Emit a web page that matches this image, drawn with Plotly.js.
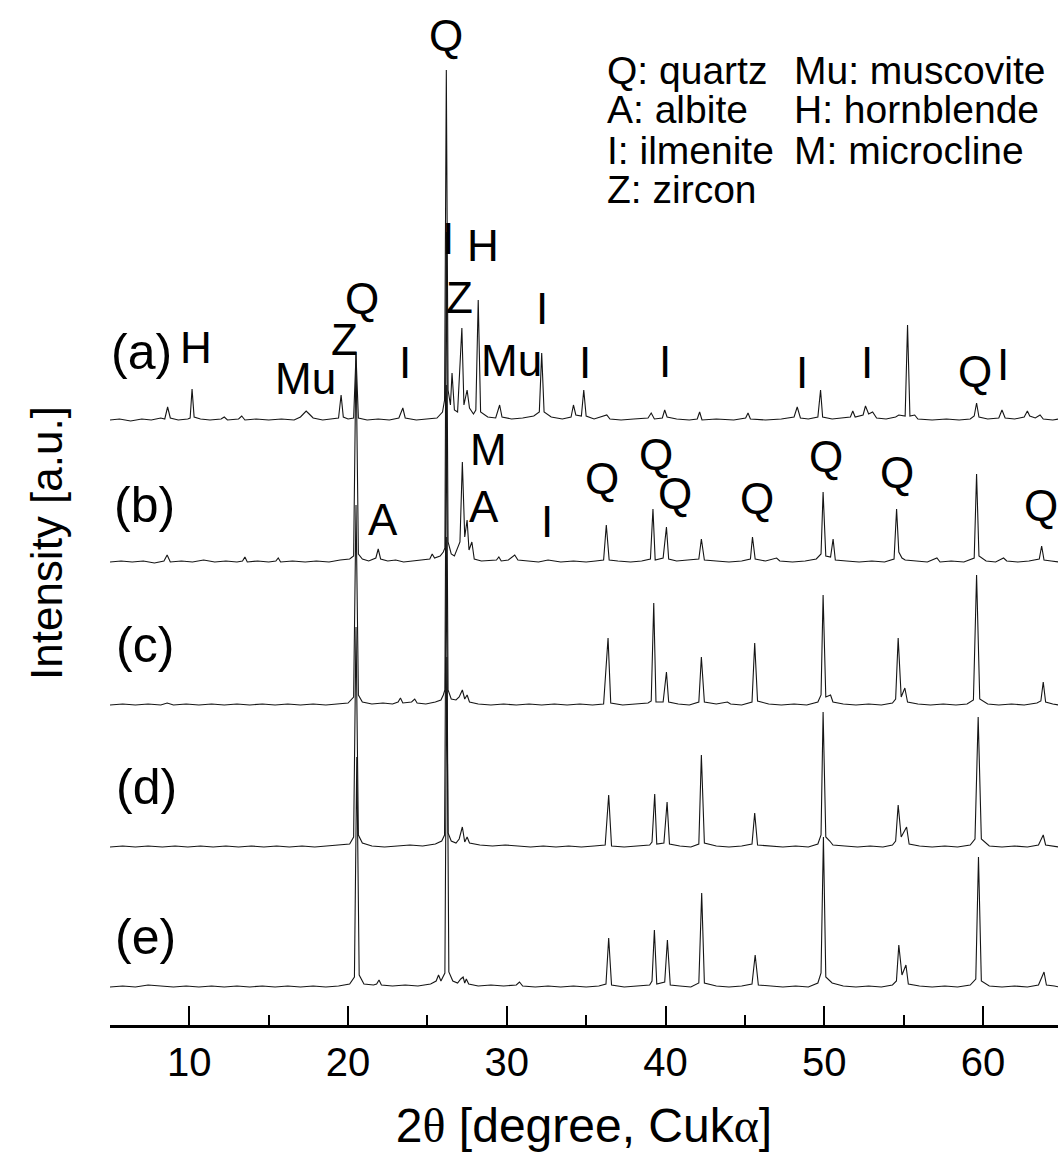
<!DOCTYPE html>
<html><head><meta charset="utf-8">
<script src="https://cdn.plot.ly/plotly-3.0.1.min.js"></script>
<style>html,body{margin:0;padding:0;background:#fff;}#chart{width:1058px;height:1169px;}</style>
</head><body><div id="chart"></div>
<script>
// ---- data (2θ in degrees, intensity in arbitrary units above each pattern's own baseline)
const sampleNames = ['(a)', '(b)', '(c)', '(d)', '(e)'];

const twoTheta_a = [5.0,5.6,6.3,7.0,7.6,8.2,8.45,8.63,8.8,9.3,9.9,10.05,10.17,10.3,10.7,11.3,12.0,12.2,12.4,13.1,13.3,13.5,14.2,15.0,15.8,16.6,17.0,17.2,17.36,17.55,17.8,18.4,19.0,19.4,19.56,19.7,20.0,20.35,20.5,20.65,21.2,21.9,22.6,23.2,23.45,23.6,24.3,25.0,25.6,25.95,26.08,26.19,26.3,26.45,26.55,26.7,26.9,27.17,27.3,27.5,27.65,27.9,28.05,28.2,28.35,28.8,29.3,29.55,29.7,30.3,31.0,31.7,32.05,32.2,32.35,32.8,33.5,34.05,34.2,34.35,34.7,34.85,35.0,35.5,36.3,36.5,37.2,38.0,38.9,39.1,39.3,39.8,39.95,40.1,40.7,41.5,42.0,42.15,42.3,43.2,44.3,45.05,45.2,45.35,46.3,47.3,48.1,48.3,48.5,49.0,49.6,49.77,49.9,50.5,51.2,51.65,51.8,51.95,52.45,52.6,52.8,53.05,53.3,53.9,54.5,54.7,55.1,55.25,55.4,55.7,55.9,56.8,57.7,58.5,59.2,59.45,59.6,59.75,60.3,61.0,61.2,61.4,62.0,62.6,62.8,62.95,63.3,63.6,63.8,64.4,64.8];
const intensity_a = [0,1,-1,1,0,2,1,13,2,0,1,2,31,3,1,0,1,3,0,1,4,0,1,0,1,0,3,7,9,6,2,0,1,2,25,3,1,2,65,2,0,1,0,2,12,2,0,1,2,8,20,350,30,15,47,10,8,92,15,30,12,6,10,120,8,3,2,15,3,1,2,4,8,67,8,3,1,3,15,5,4,30,4,1,5,1,0,1,2,7,1,2,10,3,1,0,1,8,0,1,0,2,7,1,0,1,3,13,2,1,3,30,3,1,2,3,9,3,5,14,6,8,2,1,3,5,4,95,4,5,1,0,1,0,1,4,17,3,1,2,10,2,1,3,9,4,2,5,1,0,1];

const twoTheta_b = [5.0,5.7,6.4,7.1,7.8,8.4,8.6,8.8,9.5,10.2,10.9,11.6,12.3,13.0,13.35,13.5,13.65,14.3,15.0,15.45,15.6,15.75,16.5,17.3,18.0,18.8,19.5,20.1,20.35,20.5,20.65,20.9,21.3,21.75,21.9,22.05,22.5,23.0,23.5,24.1,24.8,25.15,25.3,25.45,25.8,26.0,26.1,26.19,26.3,26.5,26.7,26.9,27.05,27.2,27.35,27.5,27.62,27.8,27.95,28.4,29.0,29.35,29.5,29.65,30.1,30.5,30.7,31.3,32.0,32.6,33.4,34.2,35.0,35.6,36.1,36.27,36.45,37.0,37.8,38.5,39.05,39.21,39.35,39.85,40.06,40.2,40.7,41.4,42.1,42.26,42.45,43.2,44.0,44.8,45.35,45.48,45.65,46.3,47.0,47.2,48.0,48.8,49.5,49.8,49.93,50.1,50.4,50.56,50.7,51.4,52.2,53.0,53.8,54.4,54.56,54.7,54.9,55.1,55.8,56.5,57.1,57.3,58.0,58.8,59.45,59.6,59.75,60.2,60.8,61.3,61.5,62.2,62.9,63.55,63.7,63.85,64.3,64.8];
const intensity_b = [0,1,0,1,-1,1,7,0,1,0,2,0,1,0,1,5,0,1,0,1,4,0,1,0,1,0,2,3,6,210,8,3,1,4,13,3,1,2,0,1,2,3,8,4,6,10,14,330,20,8,6,15,20,100,25,42,12,20,3,1,2,2,5,1,2,7,2,1,0,2,0,1,0,1,2,37,2,1,0,1,3,53,2,4,35,3,1,2,3,23,2,1,0,1,3,25,3,1,4,1,0,1,3,8,70,6,5,23,2,1,0,1,0,3,53,10,4,2,1,0,4,0,1,0,4,88,6,1,0,4,1,0,1,3,16,2,1,0];

const twoTheta_c = [5.0,5.8,6.6,7.4,8.2,8.6,9.0,9.8,10.6,11.4,12.2,13.0,13.8,14.6,15.4,16.2,17.0,17.8,18.6,19.4,20.0,20.35,20.5,20.65,20.9,21.5,22.2,22.8,23.15,23.3,23.45,24.0,24.2,24.35,24.9,25.5,25.85,26.0,26.1,26.19,26.3,26.5,26.8,27.0,27.2,27.35,27.5,27.65,28.2,29.0,29.8,30.6,31.4,32.2,33.0,33.8,34.6,35.4,36.1,36.38,36.55,37.3,38.1,38.9,39.1,39.26,39.4,39.85,40.06,40.2,40.8,41.5,42.1,42.26,42.45,43.2,43.9,44.1,44.8,45.45,45.62,45.8,46.5,47.3,48.1,48.9,49.6,49.8,49.93,50.1,50.4,50.55,51.2,52.0,52.8,53.6,54.3,54.5,54.66,54.85,55.08,55.25,55.9,56.7,57.5,58.3,59.0,59.4,59.6,59.8,60.3,61.0,61.8,62.6,63.4,63.65,63.8,63.95,64.4,64.8];
const intensity_c = [0,1,0,1,0,2,0,1,0,1,0,1,0,1,0,1,0,1,0,1,2,8,200,10,3,1,2,1,3,7,2,3,6,2,1,3,5,10,15,320,15,6,5,8,15,6,10,3,1,0,1,0,1,0,1,0,1,0,1,67,2,0,1,2,4,102,3,3,33,3,1,0,3,48,3,1,3,1,0,3,62,4,1,0,1,0,3,10,110,8,10,3,1,0,1,0,2,6,67,8,17,3,1,0,1,0,1,5,130,6,1,0,1,0,2,4,23,3,1,0];

const twoTheta_d = [5.0,5.8,6.6,7.4,8.3,9.1,9.9,10.7,11.5,12.3,13.1,13.9,14.7,15.5,16.3,17.1,17.9,18.7,19.5,20.1,20.35,20.5,20.65,20.9,21.5,22.3,23.1,23.9,24.7,25.5,25.9,26.08,26.19,26.3,26.5,26.8,27.0,27.2,27.35,27.5,27.65,28.3,29.1,29.9,30.7,31.5,32.3,33.1,33.9,34.7,35.5,36.2,36.42,36.6,37.4,38.2,39.0,39.15,39.32,39.45,39.9,40.1,40.25,40.9,41.6,42.1,42.26,42.45,43.2,44.0,44.8,45.45,45.62,45.8,46.6,47.4,48.2,49.0,49.6,49.8,49.93,50.1,50.35,50.55,51.3,52.1,52.9,53.7,54.3,54.5,54.66,54.85,55.19,55.35,56.0,56.8,57.6,58.4,59.2,59.5,59.7,59.9,60.4,61.2,62.0,62.8,63.5,63.8,63.95,64.5,64.8];
const intensity_d = [0,1,0,1,0,1,0,1,0,1,0,1,0,1,0,1,0,1,2,3,10,220,12,4,1,0,1,2,1,3,6,12,310,14,6,4,8,20,5,10,4,2,1,2,1,0,1,0,1,0,1,2,52,1,0,1,2,5,53,3,4,45,3,1,0,3,92,4,1,0,1,3,34,2,1,0,1,0,3,12,135,10,6,2,1,0,1,0,2,6,42,10,20,3,1,0,1,0,2,8,130,8,1,0,1,0,2,12,2,1,0];

const twoTheta_e = [5.0,5.8,6.6,7.4,8.2,9.0,9.8,10.6,11.4,12.2,13.0,13.8,14.6,15.4,16.2,17.0,17.8,18.6,19.4,20.1,20.4,20.55,20.7,21.0,21.6,21.8,21.95,22.1,22.8,23.6,24.4,25.2,25.55,25.7,25.85,26.1,26.22,26.35,26.6,26.9,27.1,27.25,27.35,27.45,27.6,28.2,29.0,29.8,30.6,30.8,31.0,31.8,32.6,33.4,34.2,35.0,35.8,36.25,36.42,36.6,37.4,38.2,39.0,39.15,39.3,39.45,39.95,40.12,40.3,40.9,41.6,42.1,42.28,42.45,43.2,44.0,44.8,45.45,45.65,45.85,46.6,47.4,48.2,49.0,49.6,49.8,49.95,50.1,50.5,51.2,52.0,52.8,53.6,54.3,54.55,54.7,54.9,55.15,55.3,56.0,56.8,57.6,58.4,59.2,59.55,59.72,59.9,60.4,61.2,62.0,62.8,63.5,63.85,64.0,64.5,64.8];
const intensity_e = [0,1,0,2,1,0,1,0,1,0,1,0,1,0,1,0,1,0,1,3,10,230,12,3,2,3,7,2,1,2,1,3,6,12,6,14,330,15,6,4,8,10,4,8,3,1,2,1,2,5,1,0,1,0,1,0,1,3,49,2,0,1,2,6,57,3,5,47,2,1,0,4,94,4,1,0,1,3,32,2,1,0,1,0,4,14,150,10,4,1,0,1,0,2,6,42,12,22,3,1,0,1,0,2,8,130,6,1,0,1,0,2,15,2,1,0];

// phase marks: [label, 2θ, height on the stacked intensity scale]
const phaseMarks = [
  ['Q',26.2,990],['H',10.44,678],['Mu',17.31,647],['Z',19.77,686],['Q',20.9,727],['I',23.56,663],
  ['I',26.27,787],['Z',27.02,728],['H',28.47,780],['Mu',30.3,665],['I',32.19,717],['I',34.9,663],
  ['I',39.95,664],['I',48.59,653],['I',52.69,663],['Q',59.5,654],['I',61.26,661],
  ['A',22.23,506],['M',28.85,576],['A',28.54,519],['I',32.51,504],['Q',35.98,547],['Q',39.38,571],
  ['Q',40.58,532],['Q',45.75,527],['Q',50.1,569],['Q',54.58,553],['Q',63.68,520]
];
const legendLeft = ['Q: quartz','A: albite','I: ilmenite','Z: zircon'];
const legendRight = ['Mu: muscovite','H: hornblende','M: microcline'];

// ---- drawing
const FONT = 'Liberation Sans, Arial, sans-serif';
const SERIF = 'Liberation Serif, Times New Roman, serif';
const stackOffset = [605, 463, 320, 178, 38];
const sampleLabelPos = [[6.97,673],[7.16,520],[7.23,380],[7.32,238],[7.23,88]];
const series = [
  [twoTheta_a, intensity_a],[twoTheta_b, intensity_b],[twoTheta_c, intensity_c],
  [twoTheta_d, intensity_d],[twoTheta_e, intensity_e]
];
const traces = series.map((s, i) => ({
  type: 'scatter', mode: 'lines', name: sampleNames[i],
  x: s[0], y: s[1].map(v => v + stackOffset[i]),
  line: {color: '#151515', width: 1.1}, hoverinfo: 'skip', showlegend: false
}));

const annotations = [];
phaseMarks.forEach(m => annotations.push({
  text: m[0], x: m[1], y: m[2], xref: 'x', yref: 'y', showarrow: false,
  xanchor: 'center', yanchor: 'middle', font: {family: FONT, size: 44, color: '#000'}
}));
sampleNames.forEach((n, i) => annotations.push({
  text: n, x: sampleLabelPos[i][0], y: sampleLabelPos[i][1], xref: 'x', yref: 'y', showarrow: false,
  xanchor: 'center', yanchor: 'middle', font: {family: FONT, size: 50, color: '#000'}
}));
legendLeft.forEach((t, i) => annotations.push({
  text: t, x: 605, y: 70 + 40 * i, xref: 'paper', yref: 'paper', showarrow: false,
  xanchor: 'left', yanchor: 'middle', font: {family: FONT, size: 39, color: '#000'}
}));
legendRight.forEach((t, i) => annotations.push({
  text: t, x: 792, y: 70 + 40 * i, xref: 'paper', yref: 'paper', showarrow: false,
  xanchor: 'left', yanchor: 'middle', font: {family: FONT, size: 39, color: '#000'}
}));
// convert legend pixel placement to paper fractions of the plot area
const L = 110, T = 0, PW = 948, PH = 1025;
annotations.forEach(a => {
  if (a.xref === 'paper') { a.x = (a.x - L) / PW; a.y = 1 - (a.y - T) / PH; }
});
annotations.push({
  text: 'Intensity [a.u.]', x: (46 - L) / PW, y: 1 - 543 / PH, xref: 'paper', yref: 'paper',
  showarrow: false, textangle: -90, xanchor: 'center', yanchor: 'middle',
  font: {family: FONT, size: 44, color: '#000'}
});

const xr = [5, 64.73];
const layout = {
  width: 1058, height: 1169,
  margin: {l: L, r: 0, t: T, b: 1169 - PH},
  paper_bgcolor: '#fff', plot_bgcolor: '#fff',
  showlegend: false,
  xaxis: {
    range: xr, autorange: false, showgrid: false, zeroline: false,
    showline: true, linecolor: '#000', linewidth: 2.5,
    ticks: 'inside', ticklen: 19, tickwidth: 2, tickcolor: '#000',
    tick0: 0, dtick: 10,
    minor: {ticks: 'inside', dtick: 5, ticklen: 10, tickwidth: 2, tickcolor: '#000'},
    tickfont: {family: FONT, size: 40, color: '#000'},
    title: {
      text: '2<span style="font-family:' + SERIF + '">θ</span> [degree, Cuk<span style="font-family:' + SERIF + '">α</span>]',
      font: {family: FONT, size: 48, color: '#000'}, standoff: 26
    }
  },
  xaxis2: {
    overlaying: 'x', anchor: 'y', side: 'bottom', range: xr, autorange: false,
    showgrid: false, zeroline: false, showline: false, showticklabels: false,
    ticks: 'inside', tick0: 0, dtick: 1, ticklen: 4, tickwidth: 1.5, tickcolor: '#000'
  },
  yaxis: {range: [0, PH], autorange: false, visible: false, fixedrange: true},
  annotations: annotations
};
Plotly.newPlot('chart', traces, layout, {staticPlot: true, displayModeBar: false});
</script></body></html>
